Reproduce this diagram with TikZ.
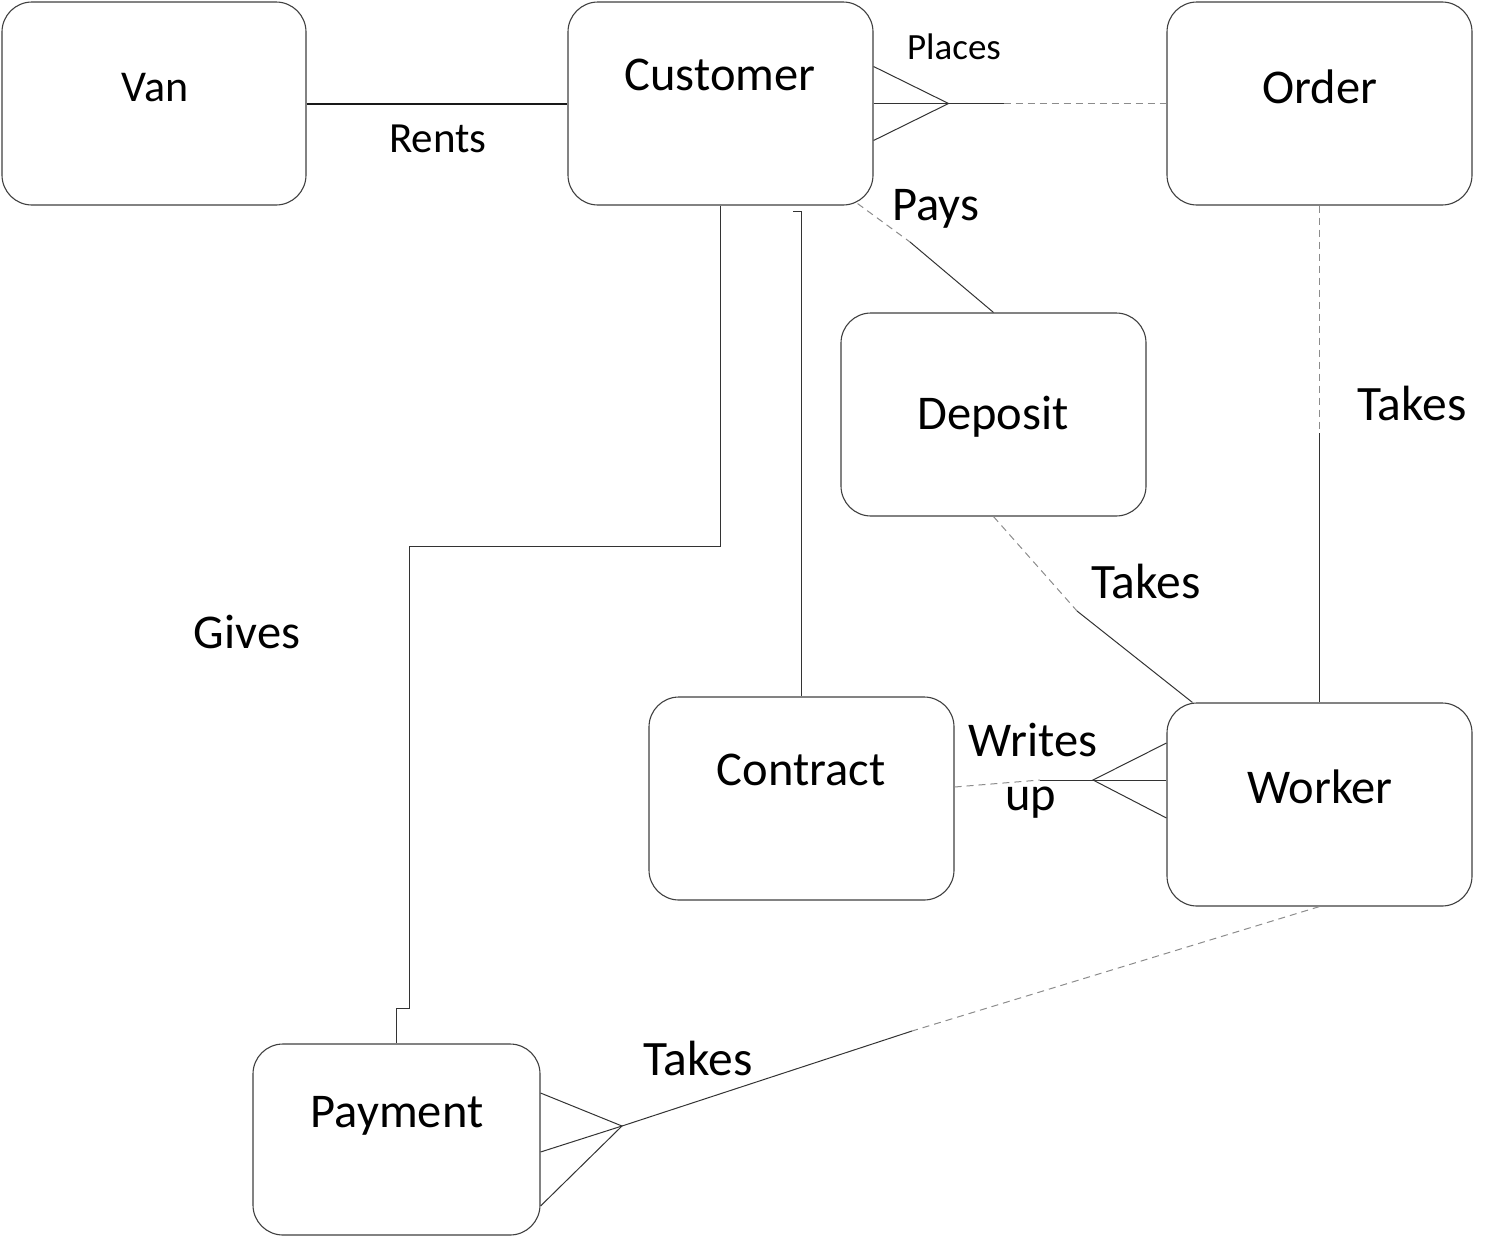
\documentclass[tikz,border=0pt]{standalone}
\usepackage{fontspec}
\setmainfont{Carlito}
\usetikzlibrary{calc}
\tikzset{
  ent/.style={draw=black!75, line width=1.1pt, rounded corners=30pt, minimum width=305pt, minimum height=203pt, inner sep=0pt, fill=white},
  txt/.style={anchor=base, inner sep=0pt, font=\fontsize{48.5}{56}\selectfont},
  conn/.style={draw=black!80, line width=1pt},
  dconn/.style={draw=black!45, line width=1pt, dash pattern=on 7pt off 5pt},
}
\begin{document}
\begin{tikzpicture}[x=1pt,y=-1pt]
\useasboundingbox (0,0) rectangle (1493,1237);
% entities
\node[ent, minimum width=304pt] (van) at (154,103.5) {};
\node[ent] (cust) at (720.5,103.5) {};
\node[ent] (order) at (1319.5,103.5) {};
\node[ent] (dep) at (993.5,414.5) {};
\node[ent] (contr) at (801.5,798.5) {};
\node[ent] (work) at (1319.5,804.5) {};
\node[ent, minimum width=287pt, minimum height=191pt] (pay) at (396.5,1139.5) {};
% entity names
\node[txt, font=\fontsize{44}{50}\selectfont] (tvan) at (155,101) {Van};
\node[txt] (tcust) at (720,90) {Customer};
\node[txt] (torder) at (1320,103) {Order};
\node[txt] (tdep) at (993,429) {Deposit};
\node[txt] (tcontr) at (801,785) {Contract};
\node[txt] (twork) at (1320,803) {Worker};
\node[txt] (tpay) at (397,1127) {Payment};
% Van - Customer
\draw[conn, line width=2pt, draw=black!90] (van.east) -- (cust.west);
% Customer - Order (crow's foot at customer)
\coordinate (cpl) at ($(cust.east)+(75,0)$);
\coordinate (cpl2) at ($(cust.east)+(130,0)$);
\draw[conn] ($(cust.east)+(0,-37)$) -- (cpl) -- ($(cust.east)+(0,37)$);
\draw[conn] (cust.east) -- (cpl) -- (cpl2);
\draw[dconn] (cpl2) -- (order.west);
% Customer - Deposit
\coordinate (pa1) at ($(cust.south east)+(-16,-2)$);
\coordinate (pa2) at (910,242);
\draw[dconn] (pa1) -- (pa2);
\draw[conn] (pa2) -- (dep.north);
% Customer - Payment
\coordinate (g1) at (720.5,546);
\coordinate (g2) at (409,546);
\coordinate (g3) at (409,1008);
\coordinate (g4) at (396.5,1008);
\draw[conn] (cust.south) -- (g1) -- (g2) -- (g3) -- (g4) -- (pay.north);
% Customer - Contract
\coordinate (k1) at (793,211);
\coordinate (k2) at (801.5,211);
\draw[conn] (k1) -- (k2) -- (contr.north);
% Order - Worker
\coordinate (ow) at (1319.5,433);
\draw[dconn] (order.south) -- (ow);
\draw[conn] (ow) -- (work.north);
% Deposit - Worker
\coordinate (dw) at (1077,611);
\draw[dconn] (dep.south) -- (dw);
\draw[conn] (dw) -- ($(work.north west)+(26,0)$);
% Contract - Worker (crow's foot at worker)
\coordinate (cw1) at (1040,780);
\coordinate (cw2) at (1093,780);
\draw[dconn] ($(contr.east)+(0,-11.5)$) -- (cw1);
\draw[conn] (cw1) -- (cw2);
\draw[conn] ($(work.west)+(0,-61.5)$) -- (cw2) -- ($(work.west)+(0,13.5)$);
\draw[conn] (cw2) -- ($(work.west)+(0,-24.5)$);
% Worker - Payment (crow's foot at payment)
\coordinate (wp1) at (912,1031);
\coordinate (wp2) at (622,1126);
\draw[dconn] (work.south) -- (wp1);
\draw[conn] (wp1) -- (wp2);
\draw[conn] ($(pay.east)+(0,-46.5)$) -- (wp2) -- ($(pay.east)+(0,66.5)$);
\draw[conn] (wp2) -- ($(pay.east)+(0,12.5)$);
% relationship labels
\node[txt, font=\fontsize{43}{50}\selectfont] (lrents) at (438,152) {Rents};
\node[txt, font=\fontsize{37}{44}\selectfont] (lplaces) at (954,59) {Places};
\node[txt] (lpays) at (936,220) {Pays};
\node[txt] (lgives) at (247,648) {Gives};
\node[txt, font=\fontsize{49.5}{56}\selectfont] (ltakes1) at (1412,420) {Takes};
\node[txt, font=\fontsize{49.5}{56}\selectfont] (ltakes2) at (1146,598) {Takes};
\node[txt, font=\fontsize{49.5}{56}\selectfont] (ltakes3) at (698,1075) {Takes};
\node[txt] (lwrites) at (1033,756) {Writes};
\node[txt] (lup) at (1031,810) {up};
\end{tikzpicture}
\end{document}
